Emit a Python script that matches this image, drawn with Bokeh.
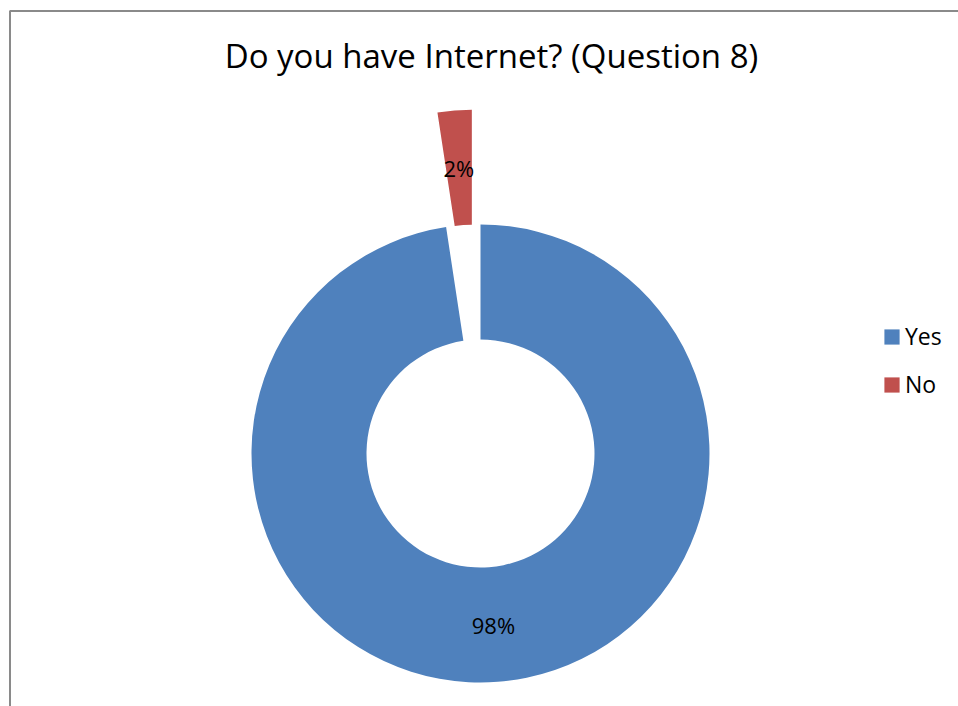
import numpy as np
from bokeh.plotting import figure
from bokeh.models import ColumnDataSource, Label, Legend, LegendItem, BoxAnnotation, Range1d
from bokeh.core.properties import value
from bokeh.embed import file_html
from bokeh.resources import INLINE

# ---- data ----
categories = ["Yes", "No"]
percents = [97.6, 2.4]
colors = ["#4F81BD", "#C0504D"]
title_text = "Do you have Internet? (Question 8)"

# ---- layout (pixel-based data space) ----
W, H = 958, 706
cx, cy = 480, H - 453          # donut centre
r_out, r_in = 229, 114
explode = [0, 115]
FONT = "Open Sans"

p = figure(width=W, height=H, output_backend="svg", toolbar_location=None,
           x_range=Range1d(0, W), y_range=Range1d(0, H),
           min_border=0, outline_line_color=None)
p.axis.visible = False
p.grid.visible = False

vals = np.array(percents, dtype=float)
frac = vals / vals.sum()
ang = frac * 2 * np.pi
ends = np.pi / 2 - np.cumsum(ang)
starts = ends + ang
mids = (starts + ends) / 2
ex = np.array(explode, dtype=float)
xs = cx + ex * np.cos(mids)
ys = cy + ex * np.sin(mids)

src = ColumnDataSource(dict(x=xs, y=ys, start=ends, end=starts, color=colors, cat=categories))
r = p.annular_wedge(x="x", y="y", inner_radius=r_in, outer_radius=r_out,
                    start_angle="start", end_angle="end", fill_color="color",
                    line_color=None, source=src)

# percent labels
rm = (r_in + r_out) / 2
lx = cx + (ex + rm) * np.cos(mids)
ly = cy + (ex + rm) * np.sin(mids)
labels = [f"{round(v)}%" for v in vals]
lsrc = ColumnDataSource(dict(x=lx, y=ly, t=labels))
p.text(x="x", y="y", text="t", source=lsrc, text_align="center", text_baseline="middle",
       text_font=value(FONT), text_font_size="22px", text_color="#000000")

# title
p.add_layout(Label(x=491, y=H - 55, text=title_text, text_align="center",
                   text_baseline="middle", text_font=FONT, text_font_size="33px",
                   text_color="#000000"))

# legend
items = [LegendItem(label=c, renderers=[r], index=i) for i, c in enumerate(categories)]
leg = Legend(items=items, location=(882, H - 400), orientation="vertical",
             glyph_width=19, glyph_height=19, label_height=20, spacing=16,
             padding=0, margin=0, border_line_color=None, background_fill_alpha=0,
             label_text_font=FONT, label_text_font_size="23px", label_standoff=4,
             label_text_color="#000000")
p.add_layout(leg, "center")

# chart-area border (only left and top edges fall inside the window)
p.add_layout(BoxAnnotation(left=9.5, top=H - 10.5, right=W + 20, bottom=-20,
                           fill_alpha=0, line_color="#8a8a8a", line_width=2,
                           line_alpha=1))

open("out.html", "w").write(file_html(p, INLINE))
